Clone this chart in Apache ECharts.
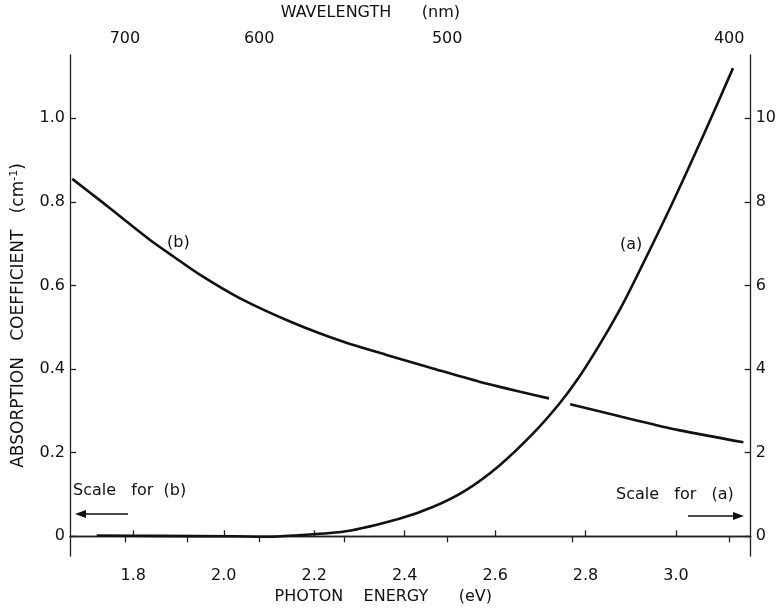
<!DOCTYPE html>
<html>
<head>
<meta charset="utf-8">
<script src="https://cdn.jsdelivr.net/npm/echarts@6/dist/echarts.min.js"></script>
<style>
  html, body { margin: 0; padding: 0; background: #fff; }
  #chart { width: 779px; height: 612px; }
</style>
</head>
<body>
<div id="chart"></div>
<script>
// Curve (b): read against the left scale (cm^-1); broken where it crosses (a)
const energyB1 = [1.665, 1.727, 1.785, 1.837, 1.888, 1.947, 2.035, 2.153, 2.263, 2.360, 2.455, 2.565, 2.719];
const coefB1   = [0.855, 0.803, 0.753, 0.709, 0.670, 0.626, 0.570, 0.511, 0.466, 0.434, 0.404, 0.370, 0.330];
const energyB2 = [2.766, 2.895, 3.006, 3.149];
const coefB2   = [0.316, 0.282, 0.254, 0.225];

// Curve (a): read against the right scale
const energyA = [1.719, 1.850, 2.020, 2.094, 2.153, 2.270, 2.388, 2.462, 2.535, 2.609, 2.683, 2.741, 2.785, 2.829, 2.873, 2.906, 2.991, 3.065, 3.126];
const coefA   = [0.02, 0.01, 0.00, -0.01, 0.02, 0.12, 0.42, 0.70, 1.10, 1.69, 2.45, 3.16, 3.80, 4.55, 5.37, 6.06, 7.95, 9.70, 11.20];

// Axis ticks
const energyTicks = [1.8, 2.0, 2.2, 2.4, 2.6, 2.8, 3.0];
const leftTicks = [0, 0.2, 0.4, 0.6, 0.8, 1.0];
const rightTicks = [0, 2, 4, 6, 8, 10];
const wavelengthTicks = [700, 650, 600, 550, 500, 450, 400];
const wavelengthLabels = [700, 600, 500, 400];
const HC = 1247; // eV·nm used for the wavelength scale

const FONT = 'DejaVu Sans';
const INK = '#111';

const toE = l => HC / l;
const pairs = (xs, ys) => xs.map((x, i) => [x, ys[i]]);

const seriesB = pairs(energyB1, coefB1).concat([[ (energyB1[energyB1.length - 1] + energyB2[0]) / 2, null ]], pairs(energyB2, coefB2));
const seriesA = pairs(energyA, coefA);

const axisLine = { show: true, lineStyle: { color: '#222', width: 1.3 } };
const tickStyle = { show: true, inside: true, length: 6, lineStyle: { color: '#222', width: 1.3 } };
const labelFont = { fontFamily: FONT, fontSize: 16, color: INK };

const chart = echarts.init(document.getElementById('chart'), null, { renderer: 'canvas' });

chart.setOption({
  backgroundColor: '#fff',
  animation: false,
  grid: { left: 70, right: 27, top: 55, bottom: 56, containLabel: false },
  xAxis: [
    {
      type: 'value', position: 'bottom', min: 1.660, max: 3.165,
      axisLine, splitLine: { show: false },
      axisTick: Object.assign({}, tickStyle, { customValues: energyTicks }),
      axisLabel: Object.assign({}, labelFont, { customValues: energyTicks, margin: 12, formatter: v => v.toFixed(1) }),
      name: 'PHOTON    ENERGY      (eV)',
      nameLocation: 'middle', nameGap: 28,
      nameTextStyle: { fontFamily: FONT, fontSize: 16, color: INK, padding: [0, 54, 0, 0] }
    },
    {
      type: 'value', position: 'top', min: 1.660, max: 3.165,
      axisLine, splitLine: { show: false },
      axisTick: Object.assign({}, tickStyle, { customValues: wavelengthTicks.map(toE) }),
      axisLabel: Object.assign({}, labelFont, {
        customValues: wavelengthLabels.map(toE), margin: 8,
        formatter: v => String(Math.round(HC / v))
      }),
      name: 'WAVELENGTH      (nm)',
      nameLocation: 'middle', nameGap: 34,
      nameTextStyle: { fontFamily: FONT, fontSize: 16, color: INK, padding: [0, 80, 0, 0] }
    }
  ],
  yAxis: [
    {
      type: 'value', position: 'left', min: -0.0471, max: 1.1514,
      axisLine, splitLine: { show: false },
      axisTick: Object.assign({}, tickStyle, { customValues: leftTicks }),
      axisLabel: Object.assign({}, labelFont, { customValues: leftTicks, margin: 5, formatter: v => v === 0 ? '0' : v.toFixed(1) }),
      name: 'ABSORPTION   COEFFICIENT   (cm{sup|-1})',
      nameLocation: 'middle', nameGap: 42,
      nameTextStyle: {
        fontFamily: FONT, fontSize: 17, color: INK, padding: [0, 20, 0, 0],
        rich: { sup: { fontFamily: FONT, fontSize: 11, color: INK, verticalAlign: 'top', padding: [0, 0, 8, 0] } }
      }
    },
    {
      type: 'value', position: 'right', min: -0.471, max: 11.514,
      axisLine, splitLine: { show: false },
      axisTick: Object.assign({}, tickStyle, { customValues: rightTicks }),
      axisLabel: Object.assign({}, labelFont, { customValues: rightTicks, margin: 5, formatter: v => String(v) })
    }
  ],
  series: [
    {
      name: '(b)', type: 'line', xAxisIndex: 0, yAxisIndex: 0,
      data: seriesB, connectNulls: false, showSymbol: false, symbol: 'none',
      smooth: 0.3,
      lineStyle: { color: INK, width: 2.6 }
    },
    {
      name: '(a)', type: 'line', xAxisIndex: 0, yAxisIndex: 1,
      data: seriesA, showSymbol: false, symbol: 'none',
      smooth: 0.3,
      lineStyle: { color: INK, width: 2.6 }
    }
  ],
  graphic: [
    { type: 'text', left: 167, top: 235, style: { text: '(b)', font: '16px "DejaVu Sans"', fill: INK } },
    { type: 'text', left: 620, top: 237, style: { text: '(a)', font: '16px "DejaVu Sans"', fill: INK } },
    { type: 'text', left: 73, top: 483, style: { text: 'Scale   for  (b)', font: '16px "DejaVu Sans"', fill: INK } },
    { type: 'text', left: 616, top: 487, style: { text: 'Scale   for   (a)', font: '16px "DejaVu Sans"', fill: INK } },
    // arrows pointing to the scale each curve uses
    { type: 'line', shape: { x1: 80, y1: 514, x2: 128, y2: 514 }, style: { stroke: INK, lineWidth: 1.5 } },
    { type: 'polygon', shape: { points: [[75, 514], [86, 510], [86, 518]] }, style: { fill: INK } },
    { type: 'line', shape: { x1: 688, y1: 516, x2: 738, y2: 516 }, style: { stroke: INK, lineWidth: 1.5 } },
    { type: 'polygon', shape: { points: [[744, 516], [733, 512], [733, 520]] }, style: { fill: INK } }
  ]
});
</script>
</body>
</html>
